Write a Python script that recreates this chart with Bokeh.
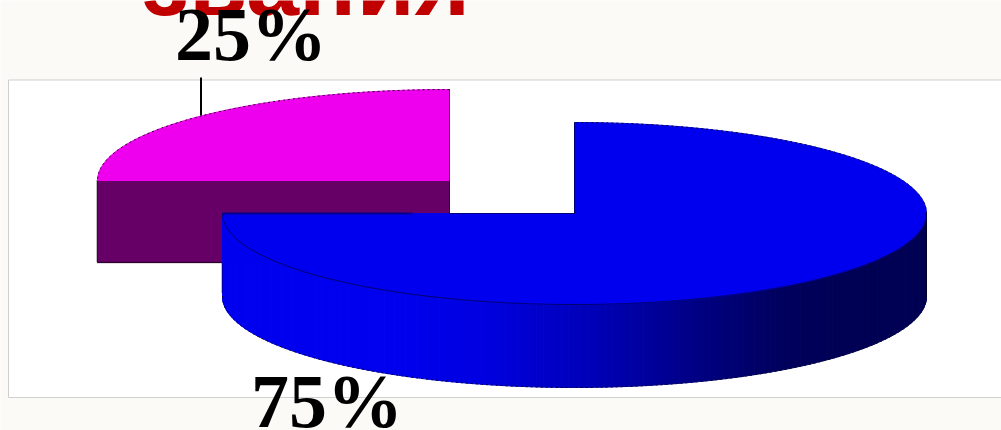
import numpy as np
from bokeh.core.properties import value
from bokeh.embed import file_html
from bokeh.models import Range1d
from bokeh.plotting import figure
from bokeh.resources import INLINE

# data
categories = ["A", "B"]
shares = [25, 75]
labels = ["25%", "75%"]
title = "звания"
top_colors = ["#ee00ee", "#0000ee"]
side_colors = ["#660066", "#0000ee"]
# shading of the blue rim, from its left end to its right end
rim_stops = [0.0, 0.25, 0.37, 0.54, 0.68, 0.79, 0.89, 1.0]
rim_blue = [238, 238, 225, 180, 130, 95, 84, 84]

W, H = 1001, 430
RX, RY, DEPTH = 352, 91, 83
centers = [(449, 180), (574, 213)]
label_pos = [(250.5, 33.3), (326.5, 400.3)]

p = figure(width=W, height=H, output_backend="svg", toolbar_location=None,
           x_range=Range1d(0, W), y_range=Range1d(H, 0), min_border=0,
           background_fill_color="#fcfaf6", border_fill_color="#fcfaf6", outline_line_color=None)
p.axis.visible = False
p.grid.visible = False
p.styles = {"position": "fixed", "left": "0px", "top": "0px"}

# white plot panel
p.quad(left=[8], right=[W + 2], top=[79.5], bottom=[397], fill_color="white",
       line_color="#cfcfcf", line_width=1)

# title behind the labels
p.text(x=[305.5], y=[34.3], text=[title], text_color="#c00000", text_align="center",
       text_baseline="bottom", text_font=value("Liberation Sans"), text_font_style="bold",
       text_font_size="95px")


def arc(cx, cy, t0, t1, n=180):
    t = np.radians(np.linspace(t0, t1, n))
    return (cx + RX * np.cos(t)).tolist(), (cy - RY * np.sin(t)).tolist()


# slice angles from the data (counter-clockwise from 12 o'clock)
total = sum(shares)
a0 = 90.0
spans = []
for s in shares:
    a1 = a0 + 360.0 * s / total
    spans.append((a0, a1))
    a0 = a1

# --- magenta slice: cut face and top
(t0, t1), (cx, cy) = spans[0], centers[0]
lx, _ = arc(cx, cy, t1, t1, 1)
face_x = [cx, lx[0], lx[0], cx]
face_y = [cy, cy, cy + DEPTH - 1, cy + DEPTH - 1]
p.patch(face_x, face_y, fill_color=side_colors[0], line_color=side_colors[0])
p.line([lx[0] - 0.5, lx[0] - 0.5], [cy, cy + DEPTH - 1], line_color="black", line_dash="1 1")
p.line([lx[0], cx], [cy + DEPTH - 1, cy + DEPTH - 1], line_color="black", line_dash="1 1", line_width=1.5)
x, y = arc(cx, cy, t0, t1)
p.patch([cx] + x, [cy] + y, fill_color=top_colors[0], line_color=top_colors[0])
p.line(x, y, line_color="#220022", line_width=1, line_dash="2 3")
p.line([cx, cx], [y[0], cy + 33], line_color="black", line_dash="1 1", line_width=1)

# --- blue slice: rim strips and top
(t0, t1), (cx, cy) = spans[1], centers[1]
n_strips = 176
edges = np.linspace(180, 360, n_strips + 1)
xs, ys, cols = [], [], []
for a, b in zip(edges[:-1], edges[1:]):
    ax, ay = arc(cx, cy, a, b, 4)
    mid = (sum(ax) / 4 - (cx - RX)) / (2 * RX)
    blue = int(np.interp(mid, rim_stops, rim_blue))
    xs.append(ax + ax[::-1])
    ys.append(ay + [v + DEPTH for v in ay[::-1]])
    cols.append(f"#0000{blue:02x}")
p.patches(xs, ys, fill_color=cols, line_color=cols, line_width=1)

x, y = arc(cx, cy, t0, t1, 360)
p.patch([cx] + x, [cy] + y, fill_color=top_colors[1], line_color=top_colors[1])
# seam between top face and rim
sx, sy = arc(cx, cy, 180, 360)
p.line(sx, sy, line_color="#000070", line_width=1)
# outlines
ox, oy = arc(cx, cy, 0, 90)
p.line(ox, oy, line_color="#000033", line_width=1, line_dash="2 3")
ox, oy = arc(cx, cy + DEPTH, 180, 360)
p.line(ox, oy, line_color="#000033", line_width=1, line_dash="2 3")
p.line([cx + RX, cx + RX], [cy, cy + DEPTH], line_color="black", line_dash="1 1")
p.line([cx, cx], [cy - RY, cy], line_color="black", line_dash="1 1")
p.line([cx - 125, cx], [cy, cy], line_color="black", line_dash="1 1")
p.line([cx - RX, cx - RX + 190], [cy, cy], line_color="#000090", line_width=2)
p.line([cx - RX - 0.5, cx - RX - 0.5], [cy + 50, cy + 80], line_color="black", line_dash="1 1")

# leader and labels
p.line([200.5, 200.5], [77, 115], line_color="black", line_width=2)
p.text(x=[q[0] for q in label_pos], y=[q[1] for q in label_pos], text=labels, text_color="black",
       text_align="center", text_baseline="alphabetic", text_font=value("Liberation Serif"),
       text_font_style="bold", text_font_size="76px")

open("out.html", "w").write(file_html(p, INLINE))
